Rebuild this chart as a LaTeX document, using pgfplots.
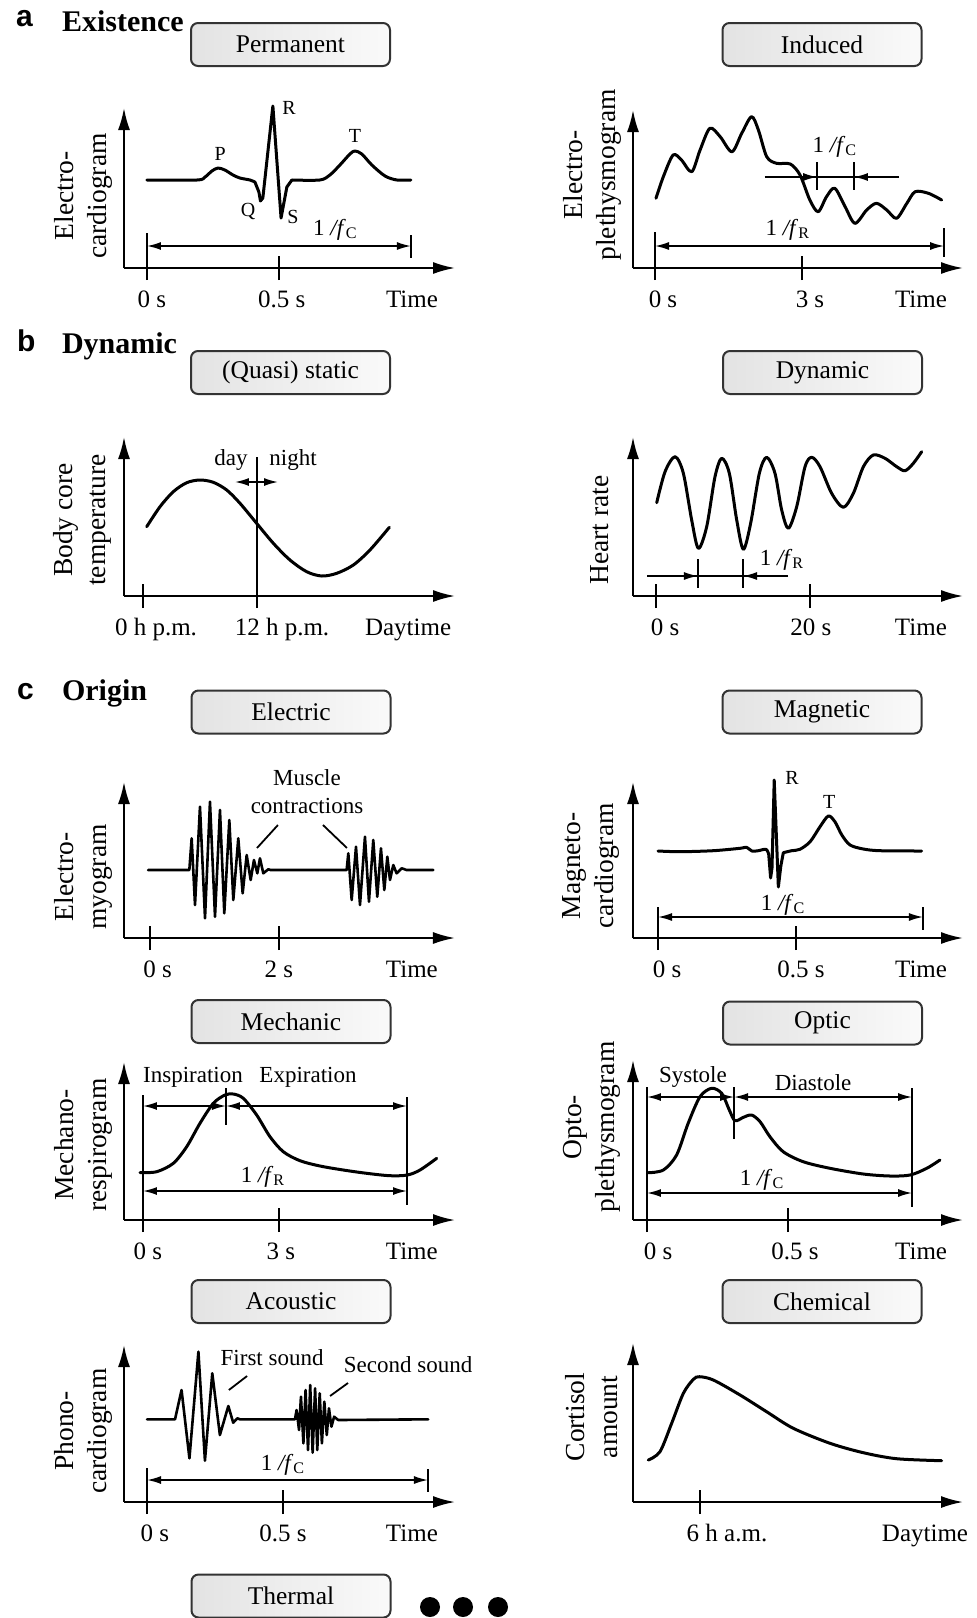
\documentclass[border=0pt]{standalone}
\usepackage{pgfplots}
\pgfplotsset{compat=1.18}
\usepackage{fontspec}
\setmainfont{Liberation Serif}
\newfontfamily\sansfont{Liberation Sans}
\usetikzlibrary{arrows.meta}
\newcommand\fbase{\fontsize{12.5}{15}\selectfont}
\newcommand\fbtn{\fontsize{12.75}{15}\selectfont}
\newcommand\fann{\fontsize{11.5}{13.8}\selectfont}
\newcommand\fylab{\fontsize{13.75}{16.5}\selectfont}
\newcommand\fsmall{\fontsize{10}{12}\selectfont}
\newcommand\ftitle{\fontsize{15}{18}\selectfont\bfseries}
\newcommand\fletter{\fontsize{15}{18}\selectfont\sansfont\bfseries}
\newcommand\inv[1]{1 \textit{/f}\textsubscript{#1}}

\pgfplotsset{
  sig/.style={
    scale only axis, clip=false,
    axis lines=left,
    axis line style={line width=1pt, -{Latex[length=11pt,width=6pt]}},
    ymin=0, ytick=\empty,
    xticklabels={},
    major tick length=12pt, tick align=center,
    tick style={line width=1pt, black},
    x tick label style={font=\fbase, anchor=base, yshift=-19.5pt},
    extra x tick style={major tick length=0pt},
  },
  ylab/.style n args={2}{every axis y label/.style={at={(axis description cs:0,#1)}, xshift=-#2, rotate=90, anchor=center, align=center, font=\fylab}},
  curve/.style={black, line width=1.5pt, line join=round, line cap=round},
}
\tikzset{
  dim/.style={black, line width=0.8pt, {Latex[length=7pt,width=4pt]}-{Latex[length=7pt,width=4pt]}},
  dimr/.style={black, line width=0.8pt, -{Latex[length=7pt,width=4pt]}},
  bar/.style={black, line width=0.9pt},
  btn/.style={draw=black!80, line width=1pt, rounded corners=3.5pt, left color=black!11, right color=black!2, minimum width=99.5pt, minimum height=21.5pt, inner sep=0pt, font=\fbtn, text=black},
}

\begin{document}
\begin{tikzpicture}
\begin{scope}[x=0.5pt,y=-0.5pt]
\path[use as bounding box] (0,0) rectangle (977,1618);
% section titles
\node[anchor=base west, font=\fletter] at (9,26) {a};
\node[anchor=base west, font=\ftitle] at (55,31) {Existence};
\node[anchor=base west, font=\fletter] at (10,351) {b};
\node[anchor=base west, font=\ftitle] at (55,353) {Dynamic};
\node[anchor=base west, font=\fletter] at (10,699) {c};
\node[anchor=base west, font=\ftitle] at (55,700) {Origin};
% buttons
\node[btn] at (290.5,44.5) {Permanent};
\node[btn] at (822,44.5) {Induced};
\node[btn] at (290.5,372.5) {(Quasi) static};
\node[btn] at (822.5,372.5) {Dynamic};
\node[btn] at (291,712) {Electric};
\node[btn] at (822,712) {Magnetic};
\node[btn] at (291,1021.5) {Mechanic};
\node[btn] at (822.5,1023) {Optic};
\node[btn] at (291,1301.5) {Acoustic};
\node[btn] at (822,1301.5) {Chemical};
\node[btn] at (291,1596) {Thermal};
\fill[black] (430,1607) circle[radius=5pt];
\fill[black] (463,1607) circle[radius=5pt];
\fill[black] (498,1607) circle[radius=5pt];
\end{scope}

% ---------- Electrocardiogram ----------
\begin{axis}[sig, at={(62pt,-134pt)}, anchor=south west, width=165.5pt, height=80pt,
  xmin=-0.087, xmax=1.167, ymax=160,
  xtick={0,0.5}, extra x ticks={0.019,0.511,1.004}, extra x tick labels={0 s,0.5 s,Time},
  ylab={0.45}{20.5pt}, ylabel={Electro-\\cardiogram}]
\addplot[curve, smooth] coordinates {(0,88) (0.189,88) (0.220,91) (0.246,97) (0.269,100) (0.295,98) (0.326,93) (0.352,90) (0.390,88) (0.409,86)};
\addplot[curve] coordinates {(0.409,86) (0.424,76) (0.430,67) (0.439,70) (0.477,162) (0.508,50) (0.530,81) (0.549,88)};
\addplot[curve, smooth] coordinates {(0.549,88) (0.655,88) (0.693,93) (0.731,103) (0.769,114) (0.788,117) (0.814,114) (0.852,103) (0.902,92) (0.947,88) (1.0,88)};
\draw[dim] (0,22) -- (1.0,22);
\draw[bar] (0,35) -- (0,0);
\draw[bar] (1.0,33) -- (1.0,10);
\node[font=\fsmall] at (0.277,114) {P};
\node[font=\fsmall] at (0.383,57) {Q};
\node[font=\fsmall] at (0.538,160) {R};
\node[font=\fsmall] at (0.553,51) {S};
\node[font=\fsmall] at (0.788,132) {T};
\node[font=\fann, anchor=base] at (0.714,33) {\inv{C}};
\end{axis}

% ---------- Electroplethysmogram ----------
\begin{axis}[sig, at={(316.5pt,-134pt)}, anchor=south west, width=165pt, height=79pt,
  xmin=-0.449, xmax=6.286, ymax=158,
  xtick={0,3}, extra x ticks={0.163,3.163,5.429}, extra x tick labels={0 s,3 s,Time},
  ylab={0.589}{20.5pt}, ylabel={Electro-\\plethysmogram}]
\addplot[curve, smooth] coordinates {(0.02,69.7) (0.17,91.3) (0.37,113) (0.54,108) (0.75,96.3) (0.92,118) (1.12,139.7) (1.33,131.3) (1.57,116.3) (1.77,134.7) (1.97,151.3) (2.11,138) (2.28,111.3) (2.48,104.7) (2.76,104) (2.96,93) (3.16,68) (3.33,56.3) (3.50,71.3) (3.67,79.7) (3.88,61.3) (4.08,44.7) (4.32,58) (4.52,64.7) (4.73,58) (4.93,49.7) (5.14,64.7) (5.31,76.3) (5.58,74.7) (5.85,68)};
\draw[dim] (0,22) -- (5.9,22);
\draw[bar] (0,36) -- (0,0);
\draw[bar] (5.9,40) -- (5.9,11);
\draw[bar, line width=0.8pt] (2.24,91) -- (4.98,91);
\draw[dimr] (2.24,91) -- (3.31,91);
\draw[dimr] (4.98,91) -- (4.06,91);
\draw[bar] (3.31,106) -- (3.31,78);
\draw[bar] (4.06,106) -- (4.06,78);
\node[font=\fann, anchor=base] at (3.67,116) {\inv{C}};
\node[font=\fann, anchor=base] at (2.71,33) {\inv{R}};
\end{axis}

% ---------- Body core temperature ----------
\begin{axis}[sig, at={(62pt,-298pt)}, anchor=south west, width=165.5pt, height=79.5pt,
  xmin=-2.0, xmax=32.84, ymax=159,
  xtick={0,12}, extra x ticks={1.37,14.63,27.9}, extra x tick labels={0 h p.m.,12 h p.m.,Daytime},
  ylab={0.478}{21pt}, ylabel={Body core\\temperature}]
\addplot[curve, smooth] coordinates {(0.39,69.3) (1.79,89.3) (3.19,104.3) (4.6,113.3) (6.0,116) (7.4,113.7) (8.81,106) (10.21,92.7) (11.96,72.7) (13.72,52.7) (15.47,36) (17.23,24.3) (18.81,20) (20.39,22.7) (22.14,31) (23.89,46) (25.93,68.7)};
\draw[bar, line width=1pt] (12,139) -- (12,-7);
\draw[dim] (9.68,114) -- (14.21,114);
\node[font=\fann, anchor=base] at (9.26,131) {day};
\node[font=\fann, anchor=base] at (15.79,131) {night};
\end{axis}

% ---------- Heart rate ----------
\begin{axis}[sig, at={(316.5pt,-298pt)}, anchor=south west, width=165pt, height=79.5pt,
  xmin=-2.99, xmax=39.87, ymax=159,
  xtick={0,20}, extra x ticks={1.17,20.1,34.4}, extra x tick labels={0 s,20 s,Time},
  ylab={0.415}{16.5pt}, ylabel={Heart rate}]
\addplot[curve, smooth] coordinates {(0.09,93.3) (1.17,124.3) (2.47,139.3) (3.55,122.7) (4.63,76) (5.5,47.7) (6.58,69.3) (7.66,119.3) (8.53,137.7) (9.52,122.7) (10.48,76) (11.34,46.7) (12.29,72.7) (13.42,122.7) (14.37,138.7) (15.45,122.7) (16.32,86) (17.19,67.7) (18.27,89.3) (19.35,129.3) (20.22,138.7) (21.3,129.3) (22.81,102.7) (24.33,88.7) (25.63,102.7) (26.93,129.3) (28.22,141) (29.74,137.7) (31.26,129.3) (32.34,125.3) (33.42,132.7) (34.5,144.3)};
\draw[bar, line width=0.8pt] (-1.17,20) -- (17.14,20);
\draw[dimr] (-1.17,20) -- (5.45,20);
\draw[dimr] (17.14,20) -- (11.3,20);
\draw[bar] (5.45,37) -- (5.45,8);
\draw[bar] (11.3,37) -- (11.3,8);
\node[font=\fann, anchor=base] at (16.36,31) {\inv{R}};
\end{axis}

% ---------- Electromyogram ----------
\begin{axis}[sig, at={(62pt,-469pt)}, anchor=south west, width=165.5pt, height=78pt,
  xmin=-0.403, xmax=4.729, ymax=156,
  xtick={0,2}, extra x ticks={0.12,2.0,4.06}, extra x tick labels={0 s,2 s,Time},
  ylab={0.391}{20.5pt}, ylabel={Electro-\\myogram}]
\addplot[curve, line width=1.3pt] coordinates {(-0.03,68) (0.61,68) (0.646,99.7) (0.698,33) (0.775,131.3) (0.853,19.7) (0.930,136.3) (1.008,21.3) (1.085,128) (1.152,24.7) (1.230,118) (1.292,38) (1.369,99.7) (1.437,44.7) (1.499,83) (1.561,58) (1.612,78) (1.664,64.7) (1.705,79.7) (1.757,64.7) (1.834,68.7) (1.87,68) (3.049,68) (3.075,84.7) (3.127,38) (3.194,91.3) (3.256,33) (3.333,101.3) (3.395,36.3) (3.462,98) (3.524,41.3) (3.581,89.7) (3.633,48) (3.680,81.3) (3.721,58) (3.772,73) (3.824,64.7) (3.902,69.7) (3.979,68) (4.393,68)};
\node[font=\fann, align=center] at (2.434,146.5) {Muscle\\contractions};
\draw[bar] (1.984,113) -- (1.659,90);
\draw[bar] (2.682,113) -- (3.054,90);
\end{axis}

% ---------- Magnetocardiogram ----------
\begin{axis}[sig, at={(316.5pt,-469pt)}, anchor=south west, width=165pt, height=78pt,
  xmin=-0.0906, xmax=1.105, ymax=156,
  xtick={0,0.5}, extra x ticks={0.033,0.518,0.953}, extra x tick labels={0 s,0.5 s,Time},
  ylab={0.462}{21pt}, ylabel={Magneto-\\cardiogram}]
\addplot[curve, smooth] coordinates {(0,87) (0.080,86.3) (0.200,87.3) (0.297,89.7) (0.321,90.7) (0.340,87) (0.363,87.3) (0.391,88.7) (0.401,84)};
\addplot[curve] coordinates {(0.401,84) (0.408,60) (0.413,70) (0.421,158) (0.436,51) (0.445,72) (0.454,85.3)};
\addplot[curve, smooth] coordinates {(0.454,85.3) (0.484,87.3) (0.514,88.7) (0.551,96.3) (0.587,111.3) (0.617,122) (0.641,116.3) (0.666,103) (0.696,93) (0.744,89) (0.804,87.3) (0.955,87)};
\draw[dim] (0,21) -- (0.960,21);
\draw[bar] (0,31) -- (0,0);
\draw[bar] (0.960,31) -- (0.960,8);
\node[font=\fann, anchor=base] at (0.453,28) {\inv{C}};
\node[font=\fsmall] at (0.486,160) {R};
\node[font=\fsmall] at (0.620,136) {T};
\end{axis}

% ---------- Mechanorespirogram ----------
\begin{axis}[sig, at={(62pt,-610pt)}, anchor=south west, width=165.5pt, height=79pt,
  xmin=-0.419, xmax=6.883, ymax=158,
  xtick={0,3}, extra x ticks={0.11,3.04,5.93}, extra x tick labels={0 s,3 s,Time},
  ylab={0.475}{20.5pt}, ylabel={Mechano-\\respirogram}]
\addplot[curve, smooth] coordinates {(-0.066,47.3) (0.302,48.3) (0.669,56.7) (0.964,73.3) (1.257,96.7) (1.551,116.7) (1.809,125) (1.993,126) (2.213,121.7) (2.508,105) (2.802,83.3) (3.095,68.3) (3.463,59.3) (3.905,54) (4.419,50) (4.935,46.7) (5.449,44.3) (5.831,45) (6.111,50) (6.479,61.7)};
\draw[bar] (0,125) -- (0,0);
\draw[bar] (5.824,123) -- (5.824,15);
\draw[bar] (1.831,132) -- (1.831,95);
\draw[dim] (0,114) -- (1.831,114);
\draw[dim] (1.831,114) -- (5.824,114);
\draw[dim] (0,29) -- (5.824,29);
\node[font=\fann, anchor=base] at (1.103,138) {Inspiration};
\node[font=\fann, anchor=base] at (3.64,138) {Expiration};
\node[font=\fann, anchor=base] at (2.647,38) {\inv{R}};
\end{axis}

% ---------- Optoplethysmogram ----------
\begin{axis}[sig, at={(316.5pt,-610pt)}, anchor=south west, width=165pt, height=80pt,
  xmin=-0.0496, xmax=1.1206, ymax=160,
  xtick={0,0.5}, extra x ticks={0.039,0.525,0.972}, extra x tick labels={0 s,0.5 s,Time},
  ylab={0.581}{20.5pt}, ylabel={Opto-\\plethysmogram}]
\addplot[curve, smooth] coordinates {(0.005,47.3) (0.058,50) (0.105,65) (0.146,96.7) (0.188,123.3) (0.229,131.7) (0.265,126.7) (0.292,110) (0.312,99.3) (0.342,102.7) (0.371,105) (0.401,98.3) (0.436,83.3) (0.483,68.3) (0.554,58.3) (0.649,51.7) (0.767,46) (0.862,44) (0.933,45) (0.992,51.7) (1.039,60)};
\draw[bar] (0,133) -- (0,0);
\draw[bar] (0.940,132) -- (0.940,13);
\draw[bar] (0.309,133) -- (0.309,81);
\draw[dim] (0,123) -- (0.309,123);
\draw[dim] (0.309,123) -- (0.940,123);
\draw[dim] (0,27) -- (0.940,27);
\node[font=\fann, anchor=base] at (0.163,138) {Systole};
\node[font=\fann, anchor=base] at (0.589,130) {Diastole};
\node[font=\fann, anchor=base] at (0.408,35) {\inv{C}};
\end{axis}

% ---------- Phonocardiogram ----------
\begin{axis}[sig, at={(62pt,-751pt)}, anchor=south west, width=165.5pt, height=78.5pt,
  xmin=-0.0846, xmax=1.1324, ymax=157,
  xtick={0,0.5}, extra x ticks={0.029,0.5,0.974}, extra x tick labels={0 s,0.5 s,Time},
  ylab={0.452}{20.5pt}, ylabel={Phono-\\cardiogram}]
\addplot[curve, line width=1.3pt] coordinates {(0,82.7) (0.103,82.7) (0.127,112) (0.156,43.7) (0.189,150.3) (0.213,41.3) (0.240,128.7) (0.268,67) (0.299,96) (0.317,79.3) (0.332,83.7) (0.342,82.7) (0.544,82.7) (0.550,92) (0.559,72) (0.566,105.3) (0.575,58.7) (0.583,112) (0.592,52) (0.600,117) (0.609,49.3) (0.618,113.7) (0.626,52) (0.635,108.7) (0.643,58.7) (0.652,100.3) (0.661,67) (0.669,93.7) (0.678,75.3) (0.688,85.3) (0.703,82) (1.034,82.7)};
\draw[dim] (0,22) -- (1.033,22);
\draw[bar] (0,34) -- (0,0);
\draw[bar] (1.033,33) -- (1.033,10);
\node[font=\fann, anchor=base] at (0.5,32) {\inv{C}};
\node[font=\fann, anchor=base] at (0.460,137) {First sound};
\node[font=\fann, anchor=base] at (0.960,130) {Second sound};
\draw[bar] (0.368,126) -- (0.301,112);
\draw[bar] (0.739,119) -- (0.673,106);
\end{axis}

% ---------- Cortisol ----------
\begin{axis}[sig, at={(316.5pt,-751pt)}, anchor=south west, width=165pt, height=79.5pt,
  xmin=1.533, xmax=23.533, ymax=159,
  xtick={6}, extra x ticks={7.8,21.0}, extra x tick labels={6 h a.m.,Daytime},
  ylab={0.535}{20.5pt}, ylabel={Cortisol\\amount}]
\addplot[curve, smooth] coordinates {(2.55,42) (3.33,50.3) (4.11,78.7) (4.89,108.7) (5.56,122.7) (5.96,125.3) (6.89,122) (8.67,107) (10.44,90.3) (12.22,73.7) (14.67,58.7) (16.89,49.3) (19.11,43.3) (22.11,41.3)};
\end{axis}
\end{tikzpicture}
\end{document}
